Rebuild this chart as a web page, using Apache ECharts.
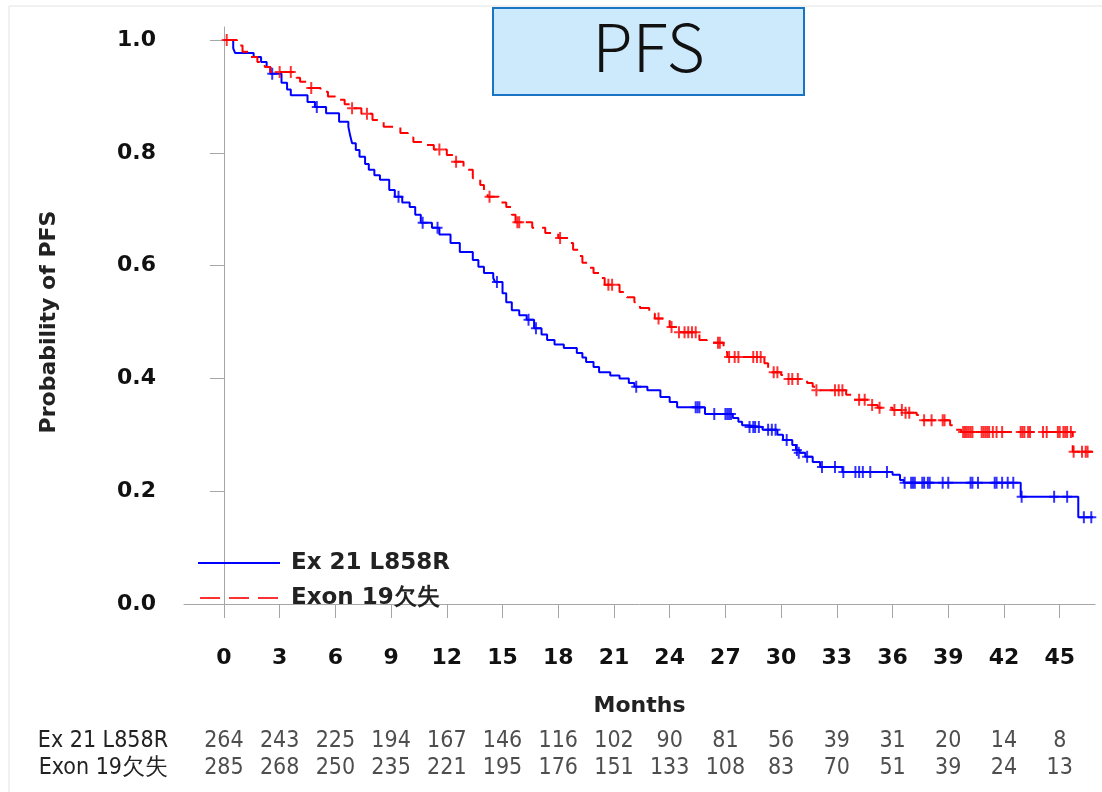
<!DOCTYPE html>
<html>
<head>
<meta charset="utf-8">
<script src="https://cdn.jsdelivr.net/npm/echarts@6/dist/echarts.min.js"></script>
<style>html,body{margin:0;padding:0;background:#fff;}#chart{width:1102px;height:792px;}</style>
</head>
<body>
<div id="chart"></div>
<script>
const titleText = 'PFS';
const seriesNames = ['Ex 21 L858R', 'Exon 19欠失'];
const xTicks = [0, 3, 6, 9, 12, 15, 18, 21, 24, 27, 30, 33, 36, 39, 42, 45];
const yTicks = [0, 0.2, 0.4, 0.6, 0.8, 1.0];
const ex21AtRisk = [264, 243, 225, 194, 167, 146, 116, 102, 90, 81, 56, 39, 31, 20, 14, 8];
const exon19AtRisk = [285, 268, 250, 235, 221, 195, 176, 151, 133, 108, 83, 70, 51, 39, 24, 13];

const ex21Steps = [[0,1.0],[0.5,0.985],[0.6,0.977],[1.6,0.97],[2.0,0.961],[2.3,0.952],[2.5,0.94],[3.1,0.924],[3.4,0.912],[3.6,0.902],[4.5,0.89],[4.9,0.881],[5.5,0.87],[6.2,0.855],[6.7,0.846],[6.8,0.83],[6.9,0.817],[7.1,0.805],[7.3,0.793],[7.6,0.78],[7.8,0.77],[8.1,0.76],[8.4,0.752],[8.9,0.734],[9.2,0.722],[9.6,0.712],[10.0,0.704],[10.3,0.69],[10.6,0.676],[11.2,0.667],[11.6,0.655],[12.2,0.64],[12.7,0.624],[13.4,0.61],[13.7,0.598],[14.0,0.587],[14.5,0.578],[14.6,0.571],[15.0,0.551],[15.2,0.535],[15.5,0.521],[15.9,0.512],[16.3,0.504],[16.7,0.489],[17.1,0.478],[17.4,0.468],[17.8,0.46],[18.3,0.454],[19.0,0.445],[19.3,0.437],[19.5,0.429],[19.9,0.42],[20.2,0.411],[20.8,0.405],[21.3,0.40],[21.8,0.392],[22.1,0.385],[22.8,0.379],[23.5,0.367],[24.0,0.358],[24.4,0.349],[25.9,0.337],[27.4,0.33],[27.7,0.323],[27.9,0.317],[28.2,0.314],[29.0,0.309],[29.8,0.30],[30.1,0.291],[30.6,0.282],[30.8,0.273],[31.0,0.268],[31.3,0.261],[31.7,0.252],[32.1,0.243],[33.3,0.234],[36.0,0.229],[36.4,0.22],[36.6,0.215],[42.9,0.19],[46.0,0.154],[46.8,0.154]];
const ex21Censored = [[2.6,0.94],[5.0,0.881],[9.4,0.722],[10.7,0.676],[11.5,0.667],[14.7,0.571],[16.4,0.504],[16.8,0.489],[22.2,0.385],[25.4,0.349],[25.5,0.349],[25.6,0.349],[26.4,0.337],[27.0,0.337],[27.1,0.337],[27.2,0.337],[27.3,0.337],[28.3,0.314],[28.5,0.314],[28.6,0.314],[28.8,0.314],[29.3,0.309],[29.5,0.309],[29.7,0.309],[30.3,0.291],[30.85,0.273],[30.95,0.268],[31.4,0.261],[32.2,0.243],[32.9,0.243],[33.35,0.234],[34.0,0.234],[34.2,0.234],[34.4,0.234],[34.8,0.234],[35.7,0.234],[36.65,0.215],[37.0,0.215],[37.1,0.215],[37.2,0.215],[37.6,0.215],[37.7,0.215],[37.9,0.215],[38.0,0.215],[38.7,0.215],[39.0,0.215],[40.2,0.215],[40.3,0.215],[40.6,0.215],[41.5,0.215],[41.6,0.215],[41.9,0.215],[42.2,0.215],[42.5,0.215],[42.95,0.19],[44.7,0.19],[45.4,0.19],[46.3,0.154],[46.7,0.154]];

const exon19Steps = [[0,1.0],[0.7,0.99],[1.0,0.979],[1.4,0.97],[1.8,0.961],[2.2,0.952],[2.5,0.943],[3.9,0.933],[4.1,0.926],[4.5,0.915],[5.2,0.908],[5.6,0.9],[6.0,0.894],[6.5,0.886],[6.8,0.879],[7.4,0.869],[8.0,0.858],[8.6,0.846],[9.5,0.835],[9.9,0.827],[10.2,0.819],[10.9,0.814],[11.3,0.806],[12.0,0.796],[12.4,0.784],[12.9,0.77],[13.4,0.755],[13.8,0.743],[14.0,0.732],[14.2,0.722],[14.8,0.712],[15.2,0.704],[15.5,0.69],[15.7,0.677],[16.6,0.667],[17.3,0.658],[18.0,0.649],[18.6,0.64],[18.8,0.628],[19.1,0.617],[19.3,0.605],[19.6,0.596],[19.9,0.587],[20.2,0.578],[20.5,0.566],[21.3,0.553],[21.7,0.544],[22.1,0.535],[22.4,0.525],[22.9,0.515],[23.2,0.506],[24.0,0.491],[24.4,0.482],[25.6,0.468],[26.0,0.463],[26.9,0.447],[27.1,0.438],[29.1,0.427],[29.3,0.418],[29.5,0.411],[30.0,0.406],[30.35,0.399],[31.4,0.392],[31.7,0.385],[31.85,0.379],[33.5,0.371],[33.9,0.362],[34.8,0.353],[35.2,0.348],[36.0,0.344],[36.6,0.339],[37.3,0.335],[37.6,0.326],[39.1,0.317],[39.4,0.309],[39.7,0.305],[45.7,0.27],[46.8,0.27]];
const exon19Censored = [[0.15,1.0],[3.0,0.943],[3.6,0.943],[4.7,0.915],[6.9,0.879],[7.7,0.869],[11.6,0.806],[12.5,0.784],[14.3,0.722],[15.8,0.677],[15.9,0.677],[18.1,0.649],[20.7,0.566],[20.9,0.566],[23.4,0.506],[24.1,0.491],[24.5,0.482],[24.8,0.482],[25.0,0.482],[25.2,0.482],[25.4,0.482],[26.6,0.463],[26.7,0.463],[27.2,0.438],[27.5,0.438],[27.7,0.438],[28.5,0.438],[28.7,0.438],[28.9,0.438],[29.6,0.411],[29.8,0.411],[30.4,0.399],[30.6,0.399],[30.9,0.399],[31.9,0.379],[32.9,0.379],[33.1,0.379],[33.3,0.379],[34.2,0.362],[34.5,0.362],[34.9,0.353],[35.3,0.348],[36.1,0.344],[36.5,0.344],[36.7,0.339],[36.9,0.339],[37.7,0.326],[38.1,0.326],[38.7,0.326],[38.8,0.326],[39.8,0.305],[39.9,0.305],[40.0,0.305],[40.1,0.305],[40.2,0.305],[40.3,0.305],[40.8,0.305],[40.9,0.305],[41.0,0.305],[41.1,0.305],[41.2,0.305],[41.4,0.305],[41.6,0.305],[41.9,0.305],[42.9,0.305],[43.0,0.305],[43.1,0.305],[43.3,0.305],[43.4,0.305],[44.1,0.305],[44.3,0.305],[44.9,0.305],[45.0,0.305],[45.2,0.305],[45.3,0.305],[45.4,0.305],[45.6,0.305],[45.75,0.27],[46.2,0.27],[46.4,0.27],[46.5,0.27]];

const X_MIN = -2.15, X_MAX = 46.9, Y_MIN = -0.023, Y_MAX = 1.023;
const plusPath = 'path://M4,0H6V12H4ZM0,5H10V7H0Z';
const solidIcon = 'path://M0,0H82V2H0Z';
const dashIcon = 'path://M0,0H20V2H0ZM29,0H49V2H29ZM58,0H78V2H58Z';
const boldFont = 'DejaVu Sans';
const condFont = 'DejaVu Sans Condensed, Liberation Sans Narrow, DejaVu Sans';
const axisGray = '#a6a6a6';

const chart = echarts.init(document.getElementById('chart'));

const riskData = [];
xTicks.forEach((t, i) => {
  riskData.push([t, seriesNames[0], ex21AtRisk[i]]);
  riskData.push([t, seriesNames[1], exon19AtRisk[i]]);
});

chart.setOption({
  animation: false,
  backgroundColor: '#fff',
  graphic: [
    { type: 'rect', shape: { x: 9, y: 6, width: 1110, height: 800 }, style: { fill: 'none', stroke: '#e3e3e3', lineWidth: 1 }, silent: true, z: -1 },
    { type: 'rect', shape: { x: 493, y: 8, width: 311, height: 87 }, style: { fill: '#cdeafc', stroke: '#1a74c4', lineWidth: 2 }, z: 10 },
    { type: 'text', x: 648.5, y: 47, style: { text: titleText, fill: '#111', font: '300 66px "Noto Sans CJK JP", "Noto Sans", sans-serif', textAlign: 'center', textVerticalAlign: 'middle' }, z: 11 }
  ],
  legend: {
    orient: 'vertical',
    left: 193, top: 545,
    data: [
      { name: seriesNames[0], icon: solidIcon, itemStyle: { color: '#0000ff' } },
      { name: seriesNames[1], icon: dashIcon, itemStyle: { color: '#ff3030' } }
    ],
    itemWidth: 82, itemHeight: 2, itemGap: 9,
    textStyle: { fontFamily: boldFont, fontWeight: 'bold', fontSize: 23, color: '#222', lineHeight: 26, padding: [0, 0, 0, 6] }
  },
  grid: [
    { left: 184, right: 7, top: 27, bottom: 175 },
    { left: 184, right: 7, top: 728, height: 54 }
  ],
  xAxis: [
    {
      type: 'value', gridIndex: 0, min: X_MIN, max: X_MAX,
      name: 'Months', nameLocation: 'middle', nameGap: 78,
      nameTextStyle: { fontFamily: boldFont, fontWeight: 'bold', fontSize: 22, color: '#222' },
      splitLine: { show: false },
      axisLine: { show: true, lineStyle: { color: axisGray, width: 1 } },
      axisTick: { show: true, length: 14, customValues: xTicks, lineStyle: { color: axisGray } },
      axisLabel: { customValues: xTicks, margin: 30, fontFamily: boldFont, fontWeight: 'bold', fontSize: 22, color: '#111' }
    },
    { type: 'value', gridIndex: 1, min: X_MIN, max: X_MAX, show: false }
  ],
  yAxis: [
    {
      type: 'value', gridIndex: 0, min: Y_MIN, max: Y_MAX,
      name: 'Probability of PFS', nameLocation: 'middle', nameGap: 124, nameRotate: 90,
      nameTextStyle: { fontFamily: boldFont, fontWeight: 'bold', fontSize: 22, color: '#222' },
      splitLine: { show: false },
      axisLine: { show: true, lineStyle: { color: axisGray, width: 1 } },
      axisTick: { show: true, length: 14, customValues: yTicks, lineStyle: { color: axisGray } },
      axisLabel: { customValues: yTicks, margin: 28, formatter: v => v.toFixed(1), fontFamily: boldFont, fontWeight: 'bold', fontSize: 22, color: '#111' }
    },
    {
      type: 'category', gridIndex: 1, data: seriesNames, inverse: true,
      axisLine: { show: false }, axisTick: { show: false }, splitLine: { show: false },
      axisLabel: { interval: 0, margin: 16, fontFamily: condFont, fontSize: 23, color: '#222' }
    }
  ],
  series: [
    {
      name: seriesNames[0], type: 'line', step: 'end', data: ex21Steps,
      xAxisIndex: 0, yAxisIndex: 0, symbol: 'none', showSymbol: false,
      lineStyle: { color: '#0000ff', width: 2 }, itemStyle: { color: '#0000ff' }, z: 3
    },
    {
      name: seriesNames[1], type: 'line', step: 'end', data: exon19Steps,
      xAxisIndex: 0, yAxisIndex: 0, symbol: 'none', showSymbol: false,
      lineStyle: { color: '#ff0000', width: 2, type: [14, 8] }, itemStyle: { color: '#ff0000' }, z: 4
    },
    {
      name: 'ex21-censored', type: 'scatter', data: ex21Censored, xAxisIndex: 0, yAxisIndex: 0,
      symbol: plusPath, symbolSize: [10, 12], itemStyle: { color: '#0000ff' }, z: 3
    },
    {
      name: 'exon19-censored', type: 'scatter', data: exon19Censored, xAxisIndex: 0, yAxisIndex: 0,
      symbol: plusPath, symbolSize: [10, 12], itemStyle: { color: '#ff0000' }, z: 4
    },
    {
      name: 'at-risk', type: 'scatter', data: riskData, xAxisIndex: 1, yAxisIndex: 1,
      symbolSize: 1, itemStyle: { color: 'rgba(0,0,0,0)' },
      label: { show: true, position: 'inside', formatter: p => String(p.value[2]), fontFamily: condFont, fontSize: 23, color: '#222' }
    }
  ]
});
</script>
</body>
</html>
